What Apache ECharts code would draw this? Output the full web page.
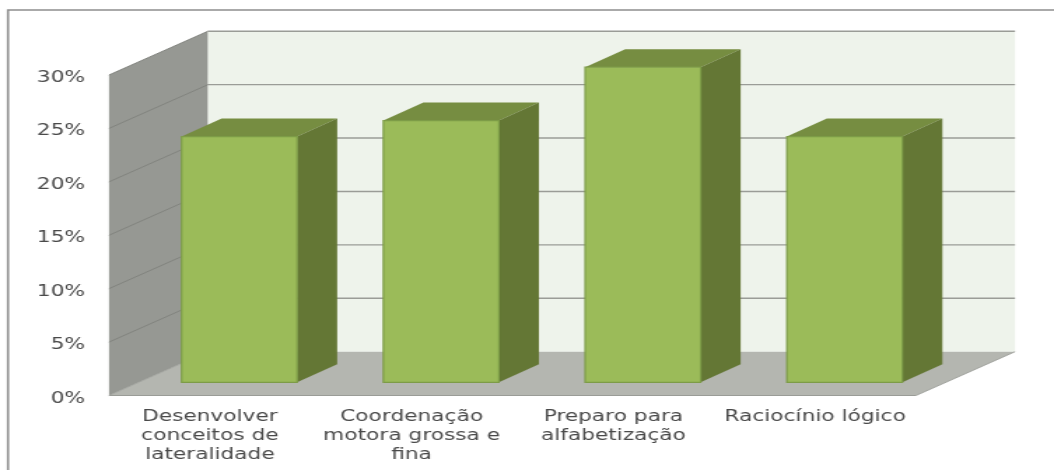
<!DOCTYPE html>
<html>
<head>
<meta charset="utf-8">
<style>
html,body{margin:0;padding:0;background:#fff;overflow:hidden;width:1054px;height:470px}
#c{width:753px;height:470px;transform-origin:0 0;transform:scaleX(1.39973)}
</style>
<script src="https://cdn.jsdelivr.net/npm/echarts@6/dist/echarts.min.js"></script>
</head>
<body>
<div id="c"></div>
<script>
const categories = ['Desenvolver\nconceitos de\nlateralidade', 'Coordenação\nmotora grossa e\nfina', 'Preparo para\nalfabetização', 'Raciocínio lógico'];
const percentValues = [23, 24.5, 29.5, 23];
const yTicks = [0, 5, 10, 15, 20, 25, 30];

const S = 1054 / 753;
const px = v => v / S;
const WALL_DX = px(99), WALL_DY = -43.8;
const BAR_DX = px(40), BAR_DY = -18;
const BAR_SHIFT_X = px(29.5), BAR_SHIFT_Y = -13.2;
const BAR_W = px(115.5);
const lineCol = '#9a9c97';

const poly = (points, fill, z2) => ({type:'polygon', z2: z2||0, shape:{points}, style:{fill, stroke:'none'}});
const seg = (a, b, stroke, lineWidth, z2) => ({type:'line', z2: z2||1, shape:{x1:a[0],y1:a[1],x2:b[0],y2:b[1]}, style:{stroke, lineWidth}});

function renderWalls(params, api) {
  const cs = params.coordSys;
  const L = cs.x, R = cs.x + cs.width;
  const y0 = api.coord([0, 0])[1], yTop = api.coord([0, yTicks[yTicks.length-1]])[1];
  const children = [
    poly([[L,y0],[L+WALL_DX,y0+WALL_DY],[L+WALL_DX,yTop+WALL_DY],[L,yTop]], '#969893'),
    poly([[L+WALL_DX,y0+WALL_DY],[R+WALL_DX,y0+WALL_DY],[R+WALL_DX,yTop+WALL_DY],[L+WALL_DX,yTop+WALL_DY]], '#eef3eb'),
    poly([[L,y0],[R,y0],[R+WALL_DX,y0+WALL_DY],[L+WALL_DX,y0+WALL_DY]], '#b4b6b0')
  ];
  yTicks.forEach(t => {
    const y = api.coord([0, t])[1];
    if (t > 0) children.push(seg([L+WALL_DX,y+WALL_DY],[R+WALL_DX,y+WALL_DY], lineCol, 1.4));
    children.push(seg([L,y],[L+WALL_DX,y+WALL_DY], t > 0 ? '#82847f' : '#a3a5a0', 1));
  });
  children.push(seg([L,y0],[R,y0], '#9a9c97', 1.2));
  children.push(seg([R,y0],[R+WALL_DX,y0+WALL_DY], '#a3a5a0', 1));
  return {type:'group', children};
}

function renderBar(params, api) {
  const base = api.coord([api.value(0), 0]);
  const top = api.coord([api.value(0), api.value(1)]);
  const xl = base[0] + BAR_SHIFT_X - BAR_W/2, xr = xl + BAR_W;
  const yb = base[1] + BAR_SHIFT_Y, yt = top[1] + BAR_SHIFT_Y;
  return {type:'group', children:[
    poly([[xl,yt],[xr,yt],[xr+BAR_DX,yt+BAR_DY],[xl+BAR_DX,yt+BAR_DY]], '#768d41'),
    poly([[xr,yt],[xr+BAR_DX,yt+BAR_DY],[xr+BAR_DX,yb+BAR_DY],[xr,yb]], '#647735'),
    {type:'rect', z2:2, shape:{x:xl,y:yt,width:BAR_W,height:yb-yt}, style:{fill:'#9bbb59', stroke:'#7d9c47', lineWidth:1.2}}
  ]};
}

const chart = echarts.init(document.getElementById('c'), null, {renderer:'canvas'});
const font = {color:'#4a4a4a', fontFamily:'DejaVu Sans', fontSize:15.5};
chart.setOption({
  animation:false,
  backgroundColor:'#fff',
  grid:{left:px(109), top:75, width:px(807), height:320.5, containLabel:false},
  xAxis:{type:'category', data:categories, axisTick:{show:false}, splitLine:{show:false},
    axisLine:{show:false},
    axisLabel:Object.assign({margin:12, lineHeight:19, interval:0, align:'center', verticalAlign:'top'}, font)},
  yAxis:{type:'value', min:0, max:30, interval:5, splitLine:{show:false}, axisTick:{show:false},
    axisLine:{show:false},
    axisLabel:Object.assign({margin:px(24), formatter:'{t|{value}%}',
      rich:{t:Object.assign({padding:[6,0,0,0]}, font)}}, font)},
  graphic:[{type:'polyline', silent:true, shape:{points:[[px(8),470],[px(8),10],[753,10]]},
    style:{stroke:'#8e8e8e', lineWidth:1.6, fill:'none'}}],
  series:[
    {type:'custom', name:'walls', data:[[0,0]], encode:{x:0,y:1}, renderItem:renderWalls, silent:true, z:1, clip:false},
    {type:'custom', name:'Percentual', data:percentValues.map((v,i)=>[i,v]), encode:{x:0,y:1}, renderItem:renderBar, z:2, clip:false}
  ]
});
</script>
</body>
</html>
